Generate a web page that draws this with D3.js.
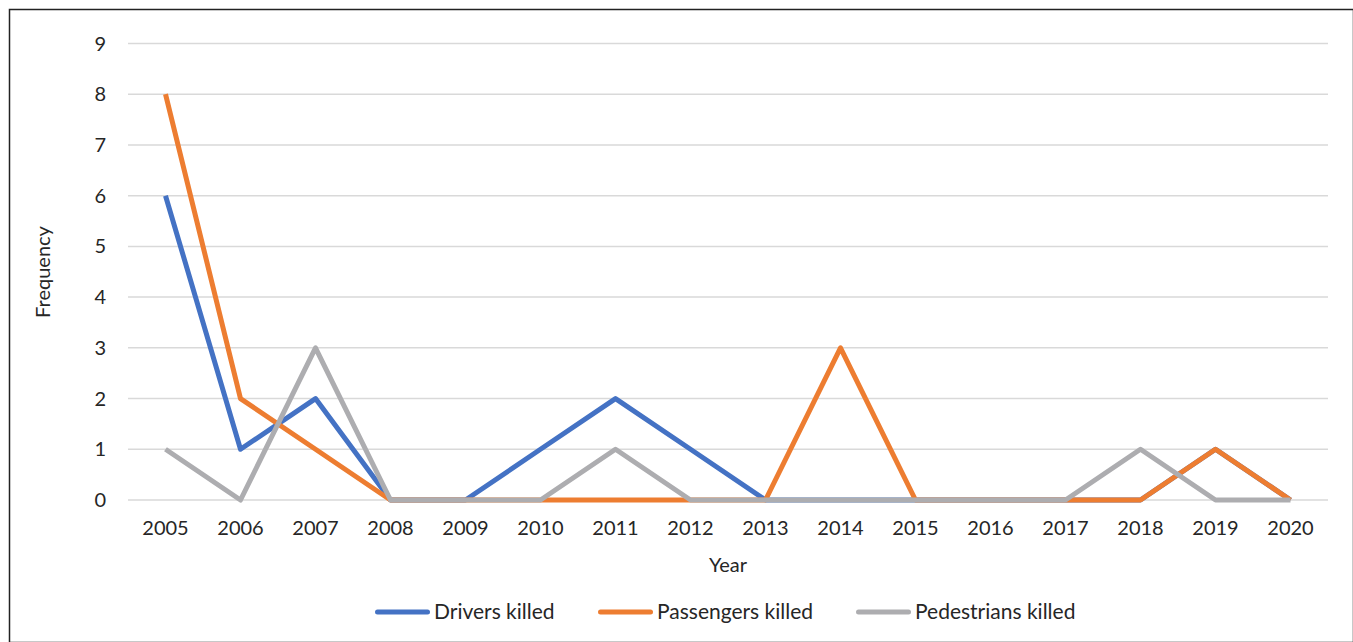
<!DOCTYPE html>
<html>
<head>
<meta charset="utf-8">
<script src="https://cdn.jsdelivr.net/npm/d3@7"></script>
<style>
body { margin: 0; background: #fff; }
svg text { font-family: Lato, "Open Sans", sans-serif; fill: #262626; }
</style>
</head>
<body>
<div class="chart"></div>
<script>
var years = ["2005","2006","2007","2008","2009","2010","2011","2012","2013","2014","2015","2016","2017","2018","2019","2020"];
var drivers = [6,1,2,0,0,1,2,1,0,0,0,0,0,0,1,0];
var passengers = [8,2,1,0,0,0,0,0,0,3,0,0,0,0,1,0];
var pedestrians = [1,0,3,0,0,0,1,0,0,0,0,0,0,1,0,0];
var seriesNames = ["Drivers killed","Passengers killed","Pedestrians killed"];
var yTicks = [0,1,2,3,4,5,6,7,8,9];

var w = 1353, h = 642;
var colors = ["#4472C4", "#ED7D31", "#ADADB0"];

var svg = d3.select(".chart").append("svg")
    .attr("width", w)
    .attr("height", h);

// outer frame
svg.append("rect")
    .attr("x", 9.5).attr("y", 9.5)
    .attr("width", w - 9).attr("height", h - 9)
    .attr("fill", "none")
    .attr("stroke", "#222")
    .attr("stroke-width", 1.5);

var x = d3.scaleBand().domain(years).range([128, 1328]);
var y = d3.scaleLinear().domain([0, 9]).range([500, 43.5]);

// gridlines
svg.append("g")
    .selectAll("line")
    .data(yTicks)
    .enter().append("line")
    .attr("x1", 128).attr("x2", 1328)
    .attr("y1", function(d) { return y(d); })
    .attr("y2", function(d) { return y(d); })
    .attr("stroke", "#d9d9d9")
    .attr("stroke-width", 1.5);

// y axis labels
svg.append("g")
    .selectAll("text")
    .data(yTicks)
    .enter().append("text")
    .attr("x", 106)
    .attr("y", function(d) { return y(d); })
    .attr("dy", "0.35em")
    .attr("text-anchor", "end")
    .style("font-size", "20px")
    .text(function(d) { return d; });

// x axis labels
svg.append("g")
    .selectAll("text")
    .data(years)
    .enter().append("text")
    .attr("x", function(d) { return x(d) + x.bandwidth() / 2; })
    .attr("y", 535)
    .attr("text-anchor", "middle")
    .style("font-size", "20px")
    .text(function(d) { return d; });

svg.append("text")
    .attr("x", 728).attr("y", 572)
    .attr("text-anchor", "middle")
    .style("font-size", "20px")
    .text("Year");

svg.append("text")
    .attr("transform", "translate(50,272) rotate(-90)")
    .attr("text-anchor", "middle")
    .style("font-size", "20px")
    .text("Frequency");

var line = d3.line()
    .x(function(d, i) { return x(years[i]) + x.bandwidth() / 2; })
    .y(function(d) { return y(d); });

[drivers, passengers, pedestrians].forEach(function(s, i) {
    svg.append("path")
        .datum(s)
        .attr("d", line)
        .attr("fill", "none")
        .attr("stroke", colors[i])
        .attr("stroke-width", 5)
        .attr("stroke-linejoin", "round");
});

// legend
var legendX = [375, 598, 856];
var legend = svg.append("g")
    .selectAll("g")
    .data(seriesNames)
    .enter().append("g")
    .attr("transform", function(d, i) { return "translate(" + legendX[i] + ",612)"; });

legend.append("line")
    .attr("x1", 2.5).attr("x2", 52.5)
    .attr("stroke", function(d, i) { return colors[i]; })
    .attr("stroke-width", 5)
    .attr("stroke-linecap", "round");

legend.append("text")
    .attr("x", 59)
    .attr("dy", "0.35em")
    .style("font-size", "21px")
    .text(function(d) { return d; });
</script>
</body>
</html>
